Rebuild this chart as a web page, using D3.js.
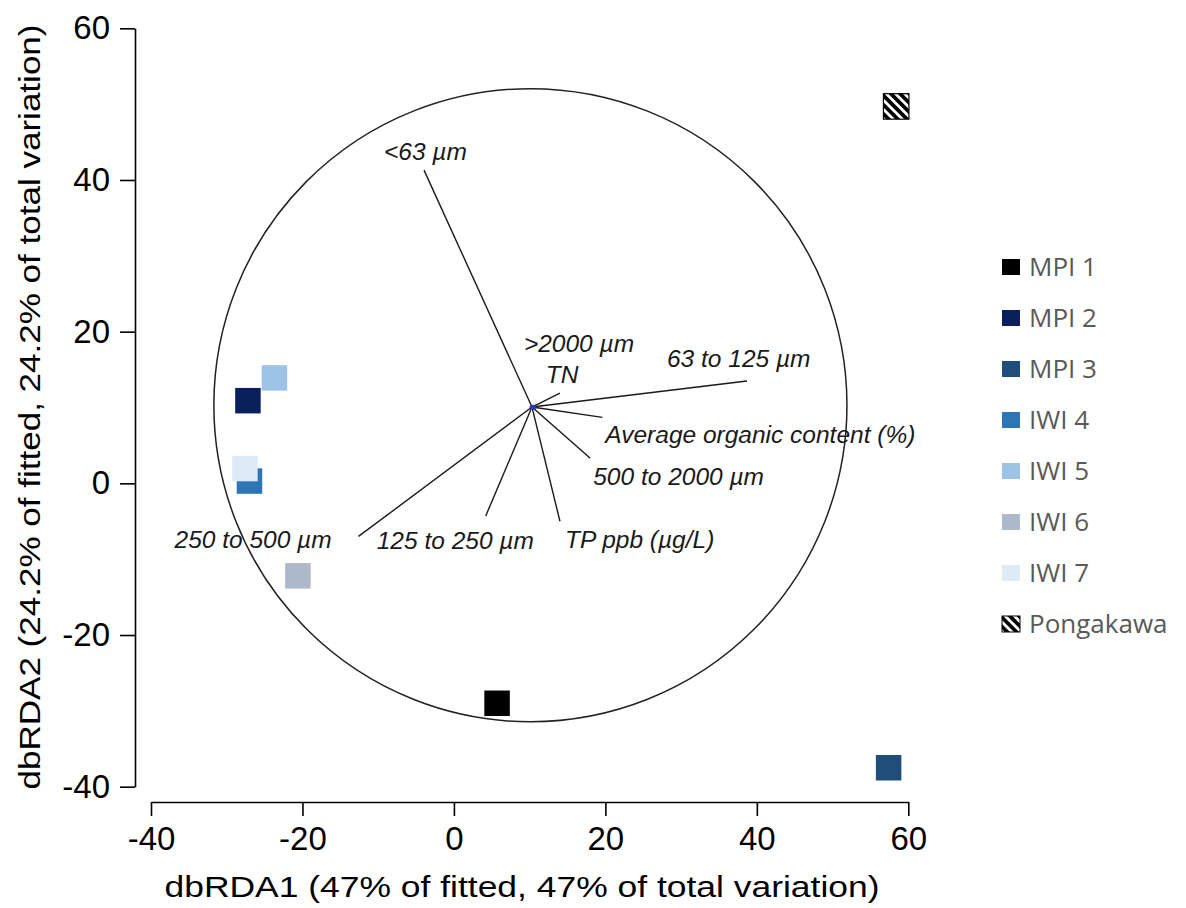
<!DOCTYPE html>
<html>
<head>
<meta charset="utf-8">
<script src="https://cdn.jsdelivr.net/npm/d3@7"></script>
<style>
    html, body { margin: 0; padding: 0; background: #fff; }
    svg { display: block; }
</style>
</head>
<body>
<svg id="chart" width="1186" height="908"></svg>
<script>
// sites (ordination scores)
var sites = ['MPI 1', 'MPI 2', 'MPI 3', 'IWI 4', 'IWI 5', 'IWI 6', 'IWI 7', 'Pongakawa'];
var siteX = [5.7, -27.2, 57.4, -27.0, -23.7, -20.6, -27.6, 58.4];
var siteY = [-29.0, 10.9, -37.5, 0.3, 13.9, -12.2, 1.95, 49.7];
var siteColors = ['#000000', '#0b1f5c', '#1f4e7b', '#2e75b6', '#9dc3e6', '#adb9ca', '#deebf7', 'url(#hatch)'];

// predictor vectors
var vectorNames = ['<63 \u00b5m', '63 to 125 \u00b5m', 'Average organic content (%)', '500 to 2000 \u00b5m',
    'TP ppb (\u00b5g/L)', '125 to 250 \u00b5m', '250 to 500 \u00b5m', '>2000 \u00b5m', 'TN'];
var vectorX = [-3.95, 38.7, 19.6, 18.0, 14.0, 4.2, -12.6, 14.0, 10.8];
var vectorY = [41.3, 13.5, 8.7, 3.3, -5.0, -4.3, -7.0, 11.9, 10.3];
var vectorOrigin = [10.31, 10.06];

// correlation circle
var circleCenter = [10.1, 10.3];
var circleRadius = 41.8;

var axisTicks = [-40, -20, 0, 20, 40, 60];
var xTitle = 'dbRDA1 (47% of fitted, 47% of total variation)';
var yTitle = 'dbRDA2 (24.2% of fitted, 24.2% of total variation)';

var svg = d3.select('#chart');

var x = d3.scaleLinear().domain([-40, 60]).range([151, 908.3]),
    y = d3.scaleLinear().domain([-40, 60]).range([786.7, 28.3]);

var defs = svg.append('defs');
var hatch = defs.append('pattern')
    .attr('id', 'hatch')
    .attr('patternUnits', 'userSpaceOnUse')
    .attr('width', 6.5)
    .attr('height', 6.5)
    .attr('patternTransform', 'rotate(-45)');
hatch.append('rect')
    .attr('width', 6.5).attr('height', 6.5)
    .attr('fill', '#000');
hatch.append('rect')
    .attr('x', 0).attr('width', 2.8).attr('height', 6.5)
    .attr('fill', '#fff');

// plain hyphen for negatives, like the original
var tickFmt = function (d) { return String(d); };

// axes
svg.append('g')
    .attr('class', 'y axis')
    .attr('transform', 'translate(135,0)')
    .call(d3.axisLeft(y).tickValues(axisTicks).tickFormat(tickFmt)
        .tickSize(15).tickSizeOuter(0).tickPadding(10));

svg.append('g')
    .attr('class', 'x axis')
    .attr('transform', 'translate(0,802)')
    .call(d3.axisBottom(x).tickValues(axisTicks).tickFormat(tickFmt)
        .tickSize(14).tickSizeOuter(0).tickPadding(11));

svg.selectAll('.axis path, .axis line')
    .attr('stroke', '#000')
    .attr('stroke-width', 1.6);
svg.selectAll('.axis text')
    .attr('font-family', 'Liberation Sans, Arial, sans-serif')
    .attr('font-size', 33)
    .attr('fill', '#000');

svg.append('text')
    .attr('x', 522)
    .attr('y', 897)
    .attr('text-anchor', 'middle')
    .attr('font-family', 'Liberation Sans, Arial, sans-serif')
    .attr('font-size', 30)
    .attr('textLength', 715)
    .attr('lengthAdjust', 'spacingAndGlyphs')
    .text(xTitle);

svg.append('text')
    .attr('transform', 'translate(40,407) rotate(-90)')
    .attr('text-anchor', 'middle')
    .attr('font-family', 'Liberation Sans, Arial, sans-serif')
    .attr('font-size', 29)
    .attr('textLength', 765)
    .attr('lengthAdjust', 'spacingAndGlyphs')
    .text(yTitle);

// circle
svg.append('circle')
    .attr('cx', x(circleCenter[0]))
    .attr('cy', y(circleCenter[1]))
    .attr('r', x(circleRadius) - x(0))
    .attr('fill', 'none')
    .attr('stroke', '#222')
    .attr('stroke-width', 1.5);

// vectors
var vectors = vectorNames.map(function (n, i) {
    return { name: n, x: vectorX[i], y: vectorY[i] };
});

svg.append('g')
    .attr('class', 'vectors')
    .selectAll('line')
    .data(vectors)
    .enter().append('line')
    .attr('x1', x(vectorOrigin[0]))
    .attr('y1', y(vectorOrigin[1]))
    .attr('x2', function (d) { return x(d.x); })
    .attr('y2', function (d) { return y(d.y); })
    .attr('stroke', '#1a1a1a')
    .attr('stroke-width', 1.4);

svg.append('ellipse')
    .attr('cx', x(vectorOrigin[0]) + 1)
    .attr('cy', y(vectorOrigin[1]))
    .attr('rx', 3.5)
    .attr('ry', 2.2)
    .attr('fill', '#2438b8');

// label offsets from the vector tip, px
var labelOffset = {
    '<63 \u00b5m': [-40, -10],
    '63 to 125 \u00b5m': [-80, -14],
    'Average organic content (%)': [3, 26],
    '500 to 2000 \u00b5m': [3, 27],
    'TP ppb (\u00b5g/L)': [5, 27],
    '125 to 250 \u00b5m': [-109, 33],
    '250 to 500 \u00b5m': [-184, 12],
    '>2000 \u00b5m': [-36, -41],
    'TN': [10, -22]
};

svg.append('g')
    .attr('class', 'vector-labels')
    .selectAll('text')
    .data(vectors)
    .enter().append('text')
    .attr('x', function (d) { return x(d.x) + labelOffset[d.name][0]; })
    .attr('y', function (d) { return y(d.y) + labelOffset[d.name][1]; })
    .attr('font-family', 'Liberation Sans, Arial, sans-serif')
    .attr('font-style', 'italic')
    .attr('font-size', 24.5)
    .attr('fill', '#1a1a1a')
    .text(function (d) { return d.name; });

// site markers
var size = 25.5;
svg.append('g')
    .attr('class', 'sites')
    .selectAll('rect')
    .data(sites)
    .enter().append('rect')
    .attr('x', function (d, i) { return x(siteX[i]) - size / 2; })
    .attr('y', function (d, i) { return y(siteY[i]) - size / 2; })
    .attr('width', size)
    .attr('height', size)
    .attr('fill', function (d, i) { return siteColors[i]; })
    .attr('stroke', function (d, i) { return d == 'Pongakawa' ? '#000' : 'none'; })
    .attr('stroke-width', 1.2);

// legend
var legend = svg.append('g')
    .attr('class', 'legend')
    .attr('transform', 'translate(1002,267)');

var legendItem = legend.selectAll('.item')
    .data(sites)
    .enter().append('g')
    .attr('class', 'item')
    .attr('transform', function (d, i) { return 'translate(0,' + (i * 51) + ')'; });

legendItem.append('rect')
    .attr('x', 0)
    .attr('y', -8)
    .attr('width', 18)
    .attr('height', 16)
    .attr('fill', function (d, i) { return siteColors[i]; })
    .attr('stroke', function (d) { return d == 'Pongakawa' ? '#000' : 'none'; });

legendItem.append('text')
    .attr('x', 27)
    .attr('y', 0)
    .attr('dy', '0.36em')
    .attr('font-family', 'Open Sans, Lato, sans-serif')
    .attr('font-size', 26)
    .attr('fill', '#595959')
    .text(function (d) { return d; });
</script>
</body>
</html>
